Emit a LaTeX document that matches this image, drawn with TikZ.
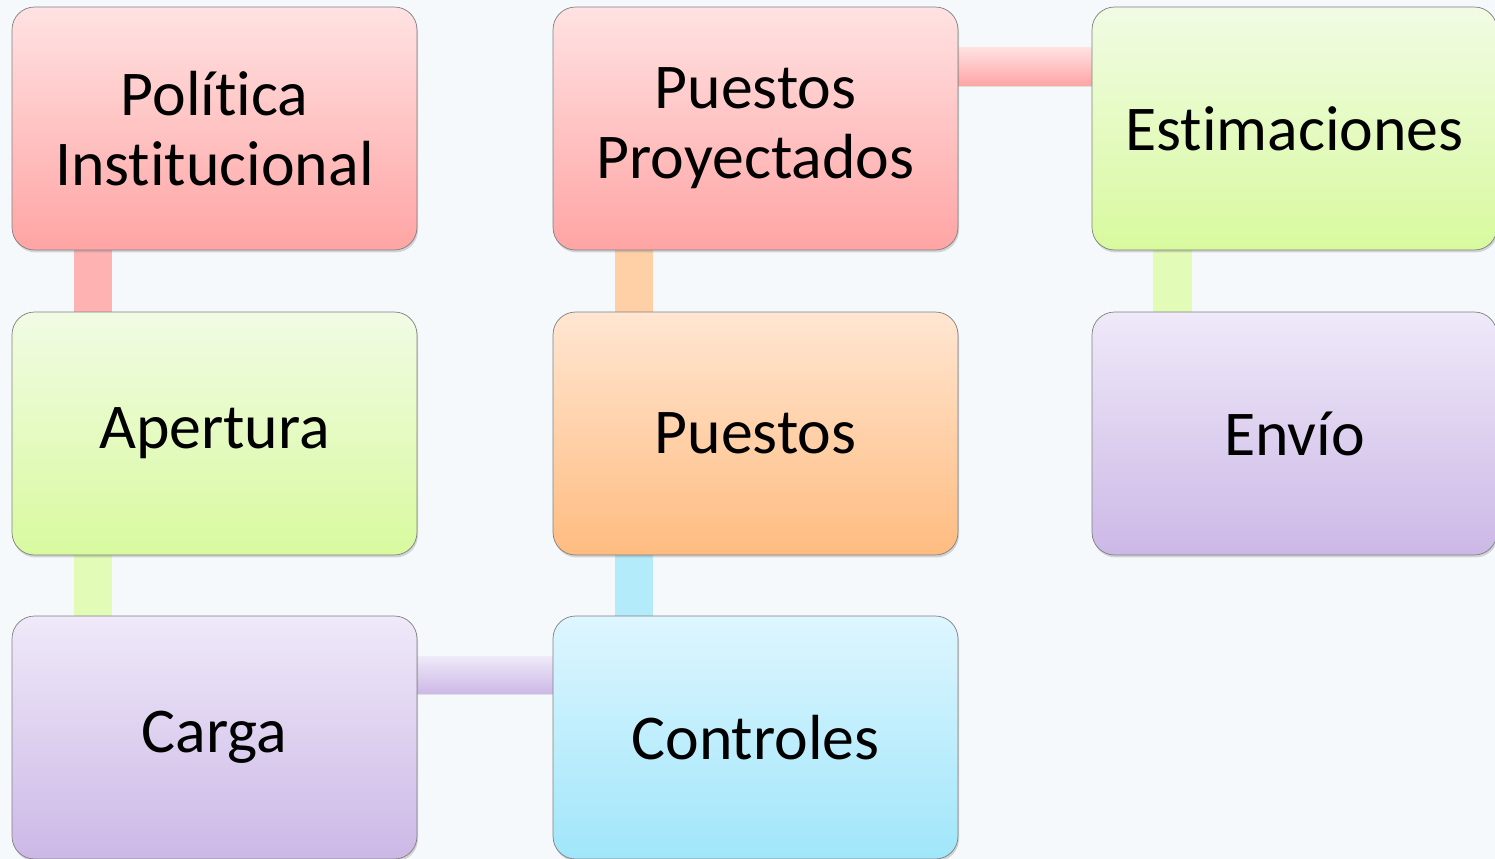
\documentclass[tikz,border=0pt]{standalone}
\usepackage{fontspec}
\setmainfont{Carlito}[Ligatures=NoCommon]
\usetikzlibrary{shadows,backgrounds}
\definecolor{fondo}{RGB}{245,249,252}
\definecolor{rojoA}{RGB}{255,226,226}
\definecolor{rojoB}{RGB}{255,164,164}
\definecolor{verdeA}{RGB}{241,251,228}
\definecolor{verdeB}{RGB}{216,250,158}
\definecolor{naranjaA}{RGB}{255,230,210}
\definecolor{naranjaB}{RGB}{255,188,128}
\definecolor{lilaA}{RGB}{239,233,249}
\definecolor{lilaB}{RGB}{204,184,230}
\definecolor{celesteA}{RGB}{222,246,255}
\definecolor{celesteB}{RGB}{160,230,250}
\begin{document}
\begin{tikzpicture}[x=0.02cm,y=-0.02cm,
  box/.style={draw=black!50,rounded corners=0.45cm,minimum width=8.1cm,minimum height=4.86cm,
    inner sep=0pt,align=center,font=\fontsize{36.3}{40}\selectfont,
    drop shadow={shadow xshift=0.6pt,shadow yshift=-1.4pt,opacity=.3}},
  rojo/.style={box,top color=rojoA,bottom color=rojoB},
  verde/.style={box,top color=verdeA,bottom color=verdeB},
  naranja/.style={box,top color=naranjaA,bottom color=naranjaB},
  lila/.style={box,top color=lilaA,bottom color=lilaB},
  celeste/.style={box,top color=celesteA,bottom color=celesteB},
  hbar/.style={drop shadow={shadow xshift=0pt,shadow yshift=-1pt,opacity=.2}}]

\useasboundingbox (0,0) rectangle (1495,859);

\node[rojo] (pol) at (214.5,128.5) {Política\\Institucional};
\node[verde] (ape) at (214.5,433.5) {Apertura};
\node[lila] (car) at (214.5,737.5) {Carga};
\node[rojo] (pro) at (755.5,128.5) {Puestos\\Proyectados};
\node[naranja] (pue) at (755.5,433.5) {Puestos};
\node[celeste] (con) at (755.5,737.5) {Controles};
\node[verde] (est) at (1294.5,128.5) {Estimaciones};
\node[lila] (env) at (1294.5,433.5) {Envío};

\begin{scope}[on background layer]
\fill[fondo] (0,0) rectangle (1495,859);
\fill[rojoB!85!white] ([xshift=1.24cm]pol.south west) rectangle ([xshift=2cm]ape.north west);
\fill[verdeB!75!white] ([xshift=1.24cm]ape.south west) rectangle ([xshift=2cm]car.north west);
\fill[naranjaB!70!white] ([xshift=1.24cm]pro.south west) rectangle ([xshift=2cm]pue.north west);
\fill[celesteB!80!white] ([xshift=1.24cm]pue.south west) rectangle ([xshift=2cm]con.north west);
\fill[verdeB!75!white] ([xshift=1.22cm]est.south west) rectangle ([xshift=2cm]env.north west);
\shade[hbar,top color=rojoA,bottom color=rojoB] ([yshift=-0.82cm]pro.north east) rectangle ([yshift=-1.58cm]est.north west);
\shade[hbar,top color=lilaA,bottom color=lilaB] ([yshift=-0.82cm]car.north east) rectangle ([yshift=-1.56cm]con.north west);
\end{scope}
\end{tikzpicture}
\end{document}
